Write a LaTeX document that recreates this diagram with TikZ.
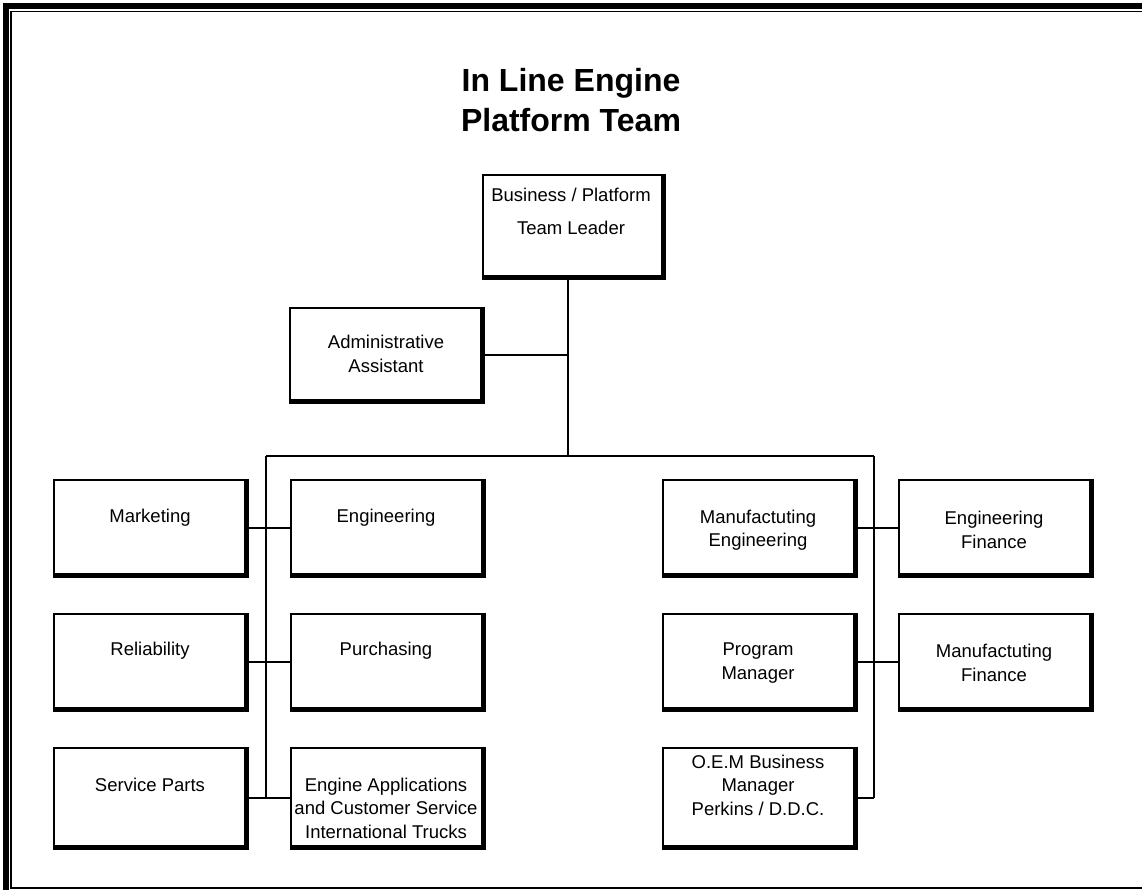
\documentclass[tikz,border=0pt]{standalone}
\usepackage{fontspec}
\setmainfont{Liberation Sans}
% heavy right and bottom edge of a box
\newcommand\heavyedges[1]{%
  \fill ([xshift=-5pt]#1.north east) rectangle (#1.south east);
  \fill (#1.south west) rectangle ([yshift=5pt]#1.south east);}
\begin{document}
\begin{tikzpicture}[x=1pt,y=-1pt,
  unit/.style={draw, line width=1.6pt, fill=white, inner sep=0pt, anchor=north west,
               minimum width=194pt, minimum height=97pt},
  caption/.style={align=center, inner sep=0pt, font=\fontsize{18.5}{23.5}\selectfont},
  heading/.style={align=center, inner sep=0pt, font=\fontsize{32}{40}\selectfont\bfseries},
  link/.style={line width=1.7pt}]
\useasboundingbox (0,0) rectangle (1142,890);
\fill[white] (0,0) rectangle (1142,890);

% page frame
\draw[line width=6pt] (6,900) -- (6,6.5) -- (1150,6.5);
\draw[line width=1.6pt] (1150,11.5) -- (11,11.5) -- (11,888) -- (1150,888);

% title
\node[heading] (title) at (571,100) {In Line Engine\\Platform Team};

% boxes
\node[unit, minimum width=182pt, minimum height=104pt] (lead) at (482,174) {};
\node[unit, minimum height=95pt] (admin) at (289,307) {};
\node[unit] (mkt) at (53,479) {};
\node[unit] (eng) at (290,479) {};
\node[unit] (mfe) at (662,479) {};
\node[unit] (efi) at (898,479) {};
\node[unit] (rel) at (53,613) {};
\node[unit] (pur) at (290,613) {};
\node[unit] (pgm) at (662,613) {};
\node[unit] (mfi) at (898,613) {};
\node[unit, minimum height=101pt] (svc) at (53,747) {};
\node[unit, minimum height=101pt] (app) at (290,747) {};
\node[unit, minimum height=101pt] (oem) at (662,747) {};

\foreach \b in {lead,admin,mkt,eng,mfe,efi,rel,pur,pgm,mfi,svc,app,oem}{\heavyedges{\b}}

% box texts
\node[caption, font=\fontsize{18.5}{33}\selectfont] (t-lead) at (571,211) {Business / Platform\\Team Leader};
\node[caption] (t-admin) at (386,354) {Administrative\\Assistant};
\node[caption] (t-mkt) at (150,518) {Marketing};
\node[caption] (t-eng) at (386,518) {Engineering};
\node[caption] (t-mfe) at (758,530) {Manufactuting\\Engineering};
\node[caption] (t-efi) at (994,530) {Engineering\\Finance};
\node[caption] (t-rel) at (150,651) {Reliability};
\node[caption] (t-pur) at (386,651) {Purchasing};
\node[caption] (t-pgm) at (758,663) {Program\\Manager};
\node[caption] (t-mfi) at (994,663) {Manufactuting\\Finance};
\node[caption] (t-svc) at (150,785) {Service Parts};
\node[caption] (t-app) at (386,808) {Engine Applications\\and Customer Service\\International Trucks};
\node[caption] (t-oem) at (758,785) {O.E.M Business\\Manager\\Perkins / D.D.C.};

% connectors
\coordinate (busM) at (568,456);
\coordinate (busL) at (266,456);
\coordinate (busR) at (874,456);
\draw[link] (lead.south -| busM) -- (busM);
\draw[link] (admin.east) -- (admin.east -| busM);
\draw[link] (busL) -- (busR);
\draw[link] (busL) -- (busL |- svc.east);
\draw[link] (busR) -- (busR |- oem.east);
\draw[link] (mkt.east) -- (eng.west);
\draw[link] (rel.east) -- (pur.west);
\draw[link] (svc.east) -- (app.west);
\draw[link] (mfe.east) -- (efi.west);
\draw[link] (pgm.east) -- (mfi.west);
\draw[link] (oem.east) -- (oem.east -| busR);
\end{tikzpicture}
\end{document}
